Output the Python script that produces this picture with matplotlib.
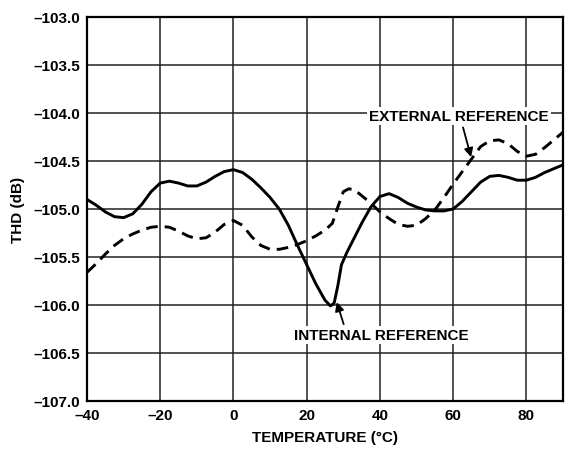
import matplotlib
matplotlib.use("Agg")
import matplotlib.pyplot as plt
from matplotlib.ticker import FuncFormatter

plt.rcParams['font.family'] = ['Liberation Sans', 'DejaVu Sans']
plt.rcParams['font.weight'] = 'bold'

temp_internal = [-40, -37.5, -35, -32.5, -30, -27.5, -25, -22.5, -20, -17.5, -15, -12.5, -10,
                 -7.5, -5, -2.5, 0, 2.5, 5, 7.5, 10, 12.5, 15, 17.5, 20, 22.5, 25, 26.5,
                 27.5, 28.5, 29.5, 31, 33, 35, 37.5, 40, 42.5, 45, 47.5, 50, 52.5, 55,
                 57.5, 60, 62.5, 65, 67.5, 70, 72.5, 75, 77.5, 80, 82.5, 85, 87.5, 90]
thd_internal = [-104.90, -104.96, -105.03, -105.08, -105.09, -105.05, -104.95, -104.82,
                -104.73, -104.71, -104.73, -104.76, -104.76, -104.72, -104.66, -104.61,
                -104.59, -104.62, -104.69, -104.78, -104.88, -105.00, -105.17, -105.38,
                -105.58, -105.78, -105.95, -106.01, -105.98, -105.80, -105.58, -105.45,
                -105.30, -105.15, -104.98, -104.87, -104.84, -104.88, -104.94, -104.98,
                -105.01, -105.02, -105.02, -105.00, -104.92, -104.82, -104.72, -104.66,
                -104.65, -104.67, -104.70, -104.70, -104.67, -104.62, -104.58, -104.54]

temp_external = [-40, -37.5, -35, -32.5, -30, -27.5, -25, -22.5, -20, -17.5, -15, -12.5, -10,
                 -7.5, -5, -2.5, 0, 2.5, 5, 7.5, 10, 12.5, 15, 17.5, 20, 22.5, 25, 27,
                 28.5, 30, 31.5, 33, 35, 37.5, 40, 42.5, 45, 47.5, 50, 52.5, 55, 57.5,
                 60, 62.5, 65, 67.5, 70, 72.5, 75, 77.5, 80, 82.5, 85, 87.5, 90]
thd_external = [-105.66, -105.57, -105.47, -105.38, -105.31, -105.26, -105.22, -105.19,
                -105.18, -105.19, -105.23, -105.28, -105.31, -105.30, -105.24, -105.16,
                -105.12, -105.17, -105.29, -105.38, -105.42, -105.42, -105.40, -105.37,
                -105.33, -105.28, -105.22, -105.15, -104.98, -104.82, -104.79, -104.80,
                -104.86, -104.94, -105.03, -105.10, -105.16, -105.18, -105.17, -105.10,
                -105.01, -104.88, -104.74, -104.61, -104.48, -104.35, -104.29, -104.28,
                -104.32, -104.40, -104.45, -104.43, -104.36, -104.28, -104.20]

x_ticks = [-40, -20, 0, 20, 40, 60, 80]
y_ticks = [-107.0, -106.5, -106.0, -105.5, -105.0, -104.5, -104.0, -103.5, -103.0]

fig = plt.figure(figsize=(5.66, 4.52), dpi=100)
ax = fig.add_axes([87/566, 1 - 402/452, (563 - 87)/566, (402 - 18)/452])

ax.plot(temp_internal, thd_internal, color='black', lw=2.1, solid_capstyle='butt', zorder=3)
ax.plot(temp_external, thd_external, color='black', lw=2.1, dashes=(4, 2.4), zorder=3)

ax.set_xlim(-40, 90)
ax.set_ylim(-107.0, -103.0)
ax.set_xticks(x_ticks)
ax.set_yticks(y_ticks)
ax.xaxis.set_major_formatter(FuncFormatter(lambda v, p: f"{v:.0f}".replace('-', '\u2013')))
ax.yaxis.set_major_formatter(FuncFormatter(lambda v, p: f"{v:.1f}".replace('-', '\u2013')))
ax.tick_params(axis='y', length=0, labelsize=11, pad=5)
ax.tick_params(axis='x', length=0, labelsize=11, pad=5)
for lab in ax.get_xticklabels() + ax.get_yticklabels():
    lab.set_fontweight('bold')
ax.grid(True, color='#222222', lw=1.1, zorder=1)
for s in ax.spines.values():
    s.set_linewidth(1.6)
    s.set_color('black')

ax.set_xlabel('TEMPERATURE (°C)', fontsize=11, fontweight='bold', labelpad=6)
ax.set_ylabel('THD (dB)', fontsize=11, fontweight='bold', labelpad=6)

arrow = dict(arrowstyle='-|>', color='black', lw=1.3, mutation_scale=13, shrinkA=0, shrinkB=0)
ax.annotate('', xy=(28.2, -105.97), xytext=(30.1, -106.20), arrowprops=arrow, zorder=4)
ax.annotate('', xy=(64.9, -104.46), xytext=(62.7, -104.15), arrowprops=arrow, zorder=4)

box = dict(facecolor='white', edgecolor='none', pad=1.5)
ax.text(40.5, -106.31, 'INTERNAL REFERENCE', ha='center', va='center', fontsize=11,
        fontweight='bold', bbox=box, zorder=5)
ax.text(61.6, -104.03, 'EXTERNAL REFERENCE', ha='center', va='center', fontsize=11,
        fontweight='bold', bbox=box, zorder=5)

fig.savefig('out.png', dpi=100)
